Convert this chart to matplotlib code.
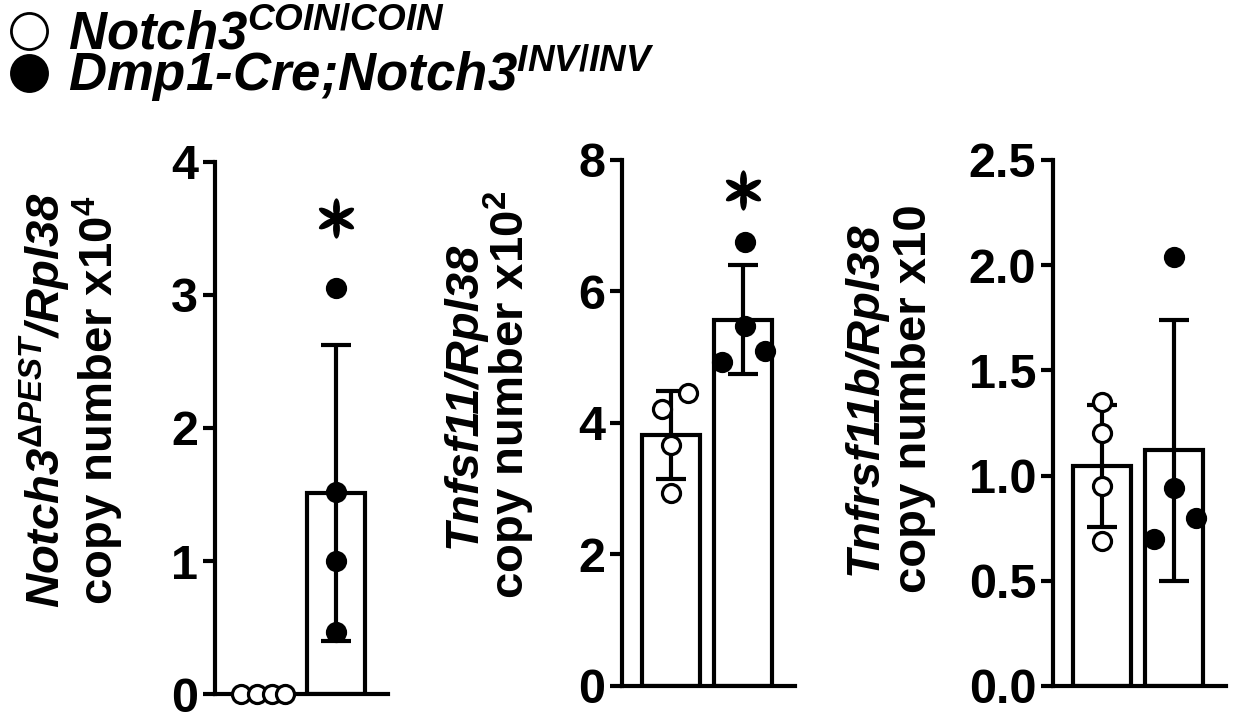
import numpy as np
import matplotlib
matplotlib.use('Agg')
import matplotlib.pyplot as plt
from matplotlib.lines import Line2D
from matplotlib.path import Path
from matplotlib.transforms import Affine2D

plt.rcParams['font.family'] = 'Liberation Sans'
plt.rcParams['font.weight'] = 'bold'
plt.rcParams['mathtext.fontset'] = 'custom'
plt.rcParams['mathtext.rm'] = 'Liberation Sans:bold'
plt.rcParams['mathtext.it'] = 'Liberation Sans:italic:bold'
plt.rcParams['mathtext.bf'] = 'Liberation Sans:bold'

# values (4 mice per group)
coin_notch3 = [0.0, 0.0, 0.0, 0.0]
inv_notch3 = [3.05, 1.52, 1.00, 0.47]
coin_tnfsf11 = [4.46, 4.21, 3.66, 2.94]
inv_tnfsf11 = [6.76, 5.48, 4.93, 5.10]
coin_tnfrsf11b = [1.35, 1.20, 0.95, 0.69]
inv_tnfrsf11b = [2.04, 0.94, 0.70, 0.80]

# horizontal scatter of the dots within a bar
coin_jitter = [[-0.32, -0.10, 0.11, 0.29], [0.24, -0.12, 0.0, 0.0], [0.0, 0.0, 0.0, 0.0]]
inv_jitter = [[0.0, 0.0, 0.0, 0.0], [0.02, 0.02, -0.30, 0.30], [0.0, 0.0, -0.28, 0.30]]

gene_labels = ['Notch3$^{\\mathit{\u0394PEST}}$/Rpl38', 'Tnfsf11/Rpl38', 'Tnfrsf11b/Rpl38']
unit_labels = ['copy number x10$^{4}$', 'copy number x10$^{2}$', 'copy number x10']
yticks = [[0, 1, 2, 3, 4], [0, 2, 4, 6, 8], [0, 0.5, 1.0, 1.5, 2.0, 2.5]]
tick_fmt = ['%d', '%d', '%.1f']
stars = [3.58, 7.54, None]

legend_labels = ['Notch3$^{\\mathit{COIN/COIN}}$',
                 'Dmp1-Cre;Notch3$^{\\mathit{INV/INV}}$']

fig = plt.figure(figsize=(12.33, 7.18), dpi=100)

positions = [[0.1744, 0.0334, 0.1403, 0.741],
             [0.5045, 0.0446, 0.1403, 0.7326],
             [0.854, 0.0446, 0.1403, 0.7326]]
gene_x = [0.037, 0.376, 0.701]
unit_x = [0.080, 0.413, 0.741]
label_y = [0.443, 0.45, 0.445]

groups = [(coin_notch3, inv_notch3), (coin_tnfsf11, inv_tnfsf11), (coin_tnfrsf11b, inv_tnfrsf11b)]

# six-petal asterisk like the one in the figure
circle = Path.unit_circle()
petals = [circle.transformed(Affine2D().scale(0.17, 0.5).translate(0, 0.5).rotate_deg(60 * k))
          for k in range(6)]
star = Path.make_compound_path(*petals)

for p in range(3):
    ax = fig.add_axes(positions[p])
    for i, vals in enumerate(groups[p]):
        vals = np.array(vals)
        jit = [coin_jitter, inv_jitter][i][p]
        face = ['white', 'black'][i]
        m = vals.mean()
        sd = vals.std(ddof=1)
        ax.bar(i, m, width=0.8, color='white', edgecolor='black', linewidth=3, zorder=1)
        ax.errorbar(i, m, yerr=sd, color='black', elinewidth=3, capsize=11, capthick=3, zorder=2)
        ax.plot(i + np.array(jit), vals, 'o', mfc=face, mec='black', mew=2.3, ms=13,
                zorder=3, clip_on=False)
    if stars[p] is not None:
        ax.plot(1, stars[p], marker=star, ms=29, color='black', mew=0, clip_on=False)
    ax.set_xlim(-0.68, 1.72)
    ax.set_ylim(yticks[p][0], yticks[p][-1])
    ax.set_yticks(yticks[p])
    ax.set_yticklabels([tick_fmt[p] % t for t in yticks[p]])
    ax.set_xticks([])
    ax.spines[['top', 'right']].set_visible(False)
    ax.spines[['left', 'bottom']].set_linewidth(3)
    ax.tick_params(axis='y', length=9, width=3, labelsize=35, pad=3)
    fig.text(gene_x[p], label_y[p], gene_labels[p], rotation=90, ha='center', va='center',
             fontsize=34, style='italic')
    fig.text(unit_x[p], label_y[p], unit_labels[p], rotation=90, ha='center', va='center',
             fontsize=34)

handles = [Line2D([], [], marker='o', ls='none', mfc='white', mec='black', mew=2, ms=26),
           Line2D([], [], marker='o', ls='none', mfc='black', mec='black', mew=2, ms=26)]
fig.legend(handles, legend_labels, loc='upper left', bbox_to_anchor=(0.002, 0.99), frameon=False,
           prop={'size': 38, 'style': 'italic', 'weight': 'bold'}, handlelength=0.9,
           handletextpad=0.3, labelspacing=-0.35, borderpad=0.0, borderaxespad=0.05)

fig.savefig('out.png', dpi=100)
